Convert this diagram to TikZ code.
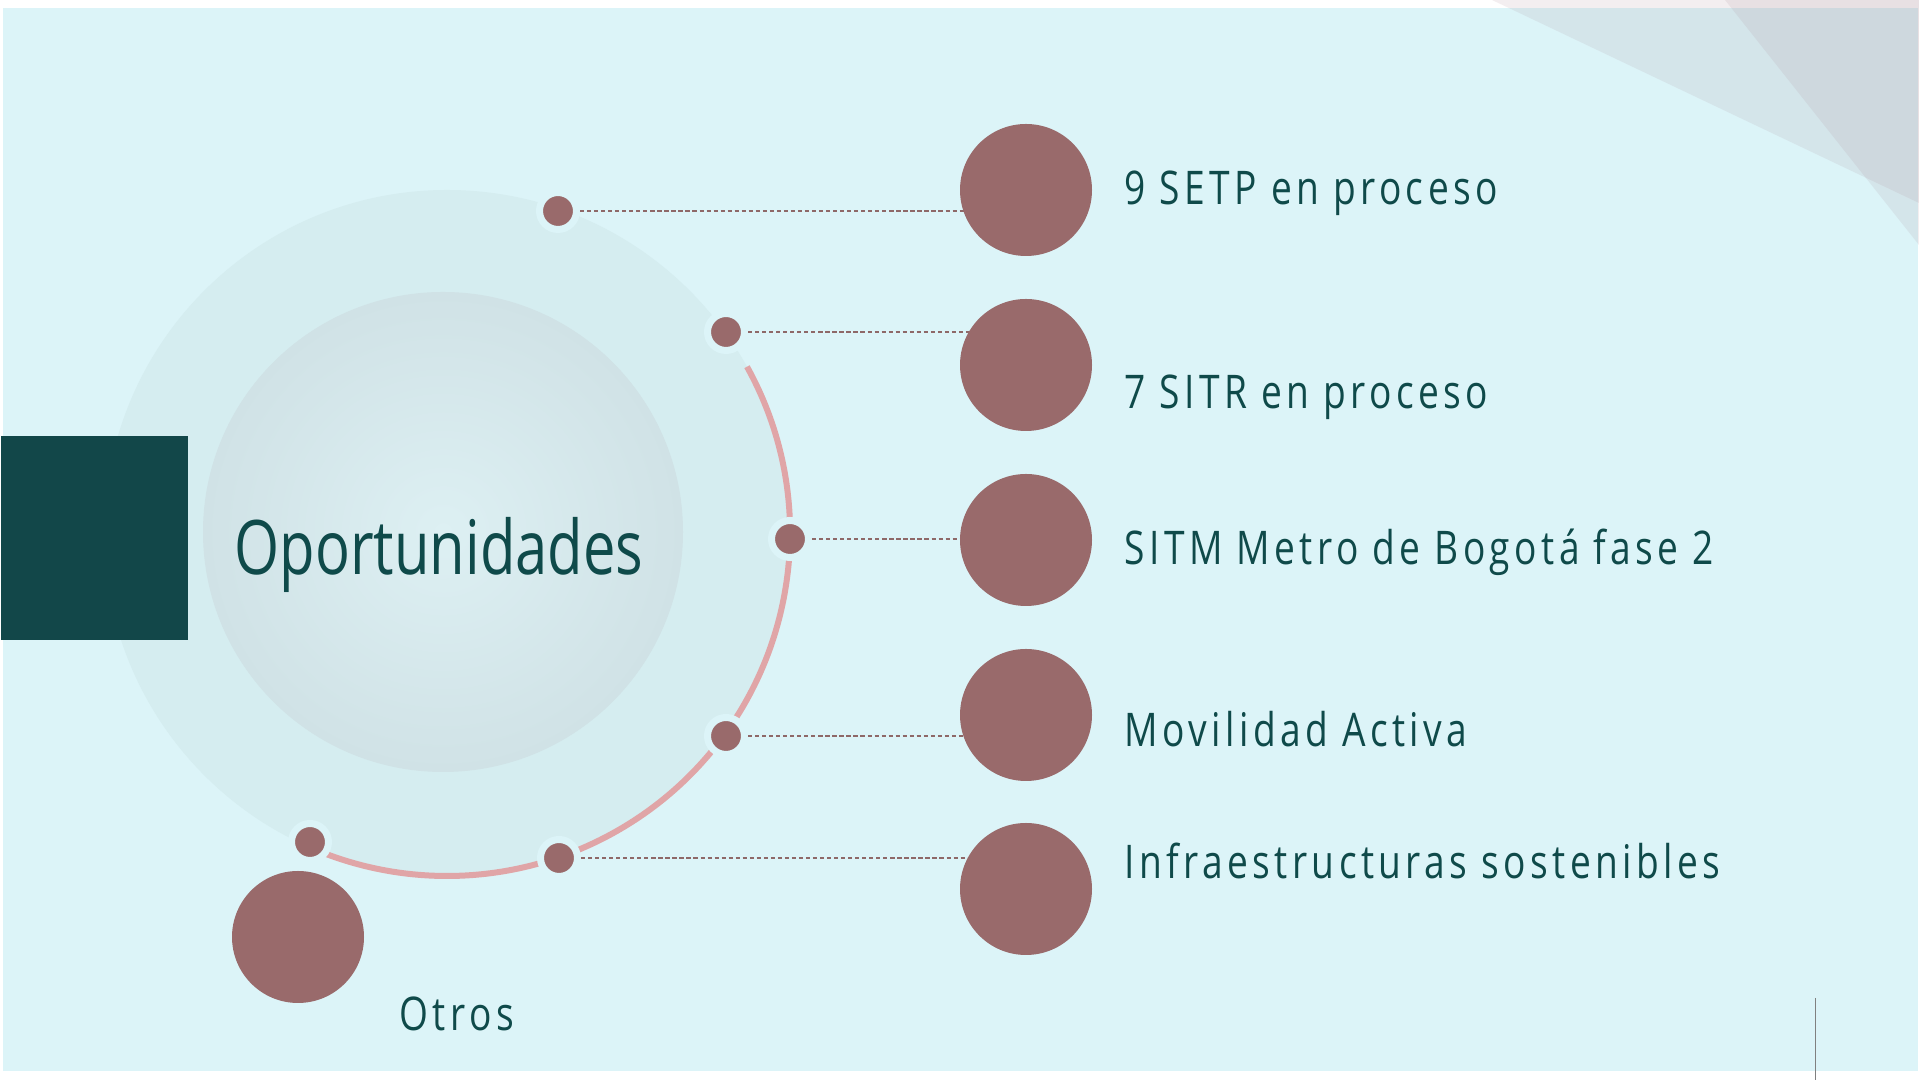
\documentclass[tikz,border=0pt]{standalone}
\usepackage{fontspec}
\setmainfont{Open Sans}
\newfontfamily\itemfont{Open Sans}[FakeStretch=0.8, LetterSpace=9.5]
\newfontfamily\titlefont{Open Sans}[FakeStretch=0.77]
\definecolor{skybg}{HTML}{DCF4F8}
\definecolor{ringfill}{HTML}{D5EDF0}
\definecolor{corefill}{HTML}{D0E2E6}
\definecolor{coreglow}{HTML}{DDF0F3}
\definecolor{deepteal}{HTML}{124749}
\definecolor{mauve}{HTML}{996A6B}
\definecolor{rosearc}{HTML}{E0A5A7}
\definecolor{inkteal}{HTML}{0F4A4A}
\definecolor{dashmauve}{HTML}{8E6868}
\definecolor{veil}{HTML}{AA8C96}
\pgfdeclarelayer{front}
\pgfsetlayers{main,front}

\begin{document}
\begin{tikzpicture}[
    hub/.style={circle, inner sep=0pt, outer sep=0pt},
    spot/.style={circle, fill=mauve, draw=skybg, line width=0.07cm, minimum size=0.37cm, inner sep=0pt},
    bigdot/.style={circle, fill=mauve, minimum size=1.32cm, inner sep=0pt},
    itemtext/.style={anchor=base west, inner sep=0pt, text=inkteal, font=\itemfont\fontsize{13.2pt}{15pt}\selectfont},
    link/.style={draw=dashmauve, line width=0.4pt, dash pattern=on 1.2pt off 0.8pt}
]
\useasboundingbox (0,0) rectangle (19.19,10.80);

% Background
\fill[white] (0,0) rectangle (19.19,10.80);
\fill[skybg] (0.03,0.09) rectangle (19.18,10.72);
\fill[veil, opacity=0.14] (14.92,10.80) -- (19.19,10.80) -- (19.19,8.77) -- cycle;
\fill[veil, opacity=0.14] (17.25,10.80) -- (19.19,10.80) -- (19.19,8.35) -- cycle;

% Rings and title
\node[hub, fill=ringfill, minimum size=6.86cm] (ring) at (4.47,5.47) {};
\node[hub, minimum size=4.80cm, inner color=coreglow, outer color=corefill] (core) at (4.43,5.48) {};
\node[fill=deepteal, minimum width=1.87cm, minimum height=2.04cm, inner sep=0pt, anchor=south west] (tab) at (0,4.39) {};
\node[anchor=base, inner sep=0pt, text=inkteal, font=\titlefont\fontsize{21.4pt}{25pt}\selectfont] (title) at (4.39,5.05) {Oportunidades};

\draw[rosearc, line width=0.06cm] (ring.29) arc[start angle=29, end angle=-114, radius=3.43];

% Dots on the ring
\node[spot] (d1) at (5.58,8.69) {};
\node[spot] (d2) at (7.26,7.48) {};
\node[spot] (d3) at (7.90,5.41) {};
\node[spot] (d4) at (7.26,3.44) {};
\node[spot] (d5) at (5.59,2.22) {};
\node[spot] (d6) at (3.10,2.38) {};

% Big circles
\begin{pgfonlayer}{front}
\node[bigdot] (c1) at (10.26,8.90) {};
\node[bigdot] (c2) at (10.26,7.15) {};
\node[bigdot] (c3) at (10.26,5.40) {};
\node[bigdot] (c4) at (10.26,3.65) {};
\node[bigdot] (c5) at (10.26,1.91) {};
\node[bigdot] (c6) at (2.98,1.43) {};
\end{pgfonlayer}

% Dashed links
\draw[link] (d1) -- (d1 -| c1.center);
\draw[link] (d2) -- (d2 -| c2.center);
\draw[link] (d3) -- (d3 -| c3.center);
\draw[link] (d4) -- (d4 -| c4.center);
\draw[link] (d5) -- (d5 -| c5.center);

% Labels
\node[itemtext] (t1) at (11.24,8.75) {9 SETP en proceso};
\node[itemtext] (t2) at (11.24,6.71) {7 SITR en proceso};
\node[itemtext] (t3) at (11.24,5.15) {SITM Metro de Bogotá fase 2};
\node[itemtext] (t4) at (11.24,3.33) {Movilidad Activa};
\node[itemtext] (t5) at (11.24,2.01) {Infraestructuras sostenibles};
\node[itemtext] (t6) at (3.99,0.49) {Otros};

\draw[gray, line width=0.01cm] (18.15,0.82) -- (18.15,0);

\end{tikzpicture}
\end{document}
